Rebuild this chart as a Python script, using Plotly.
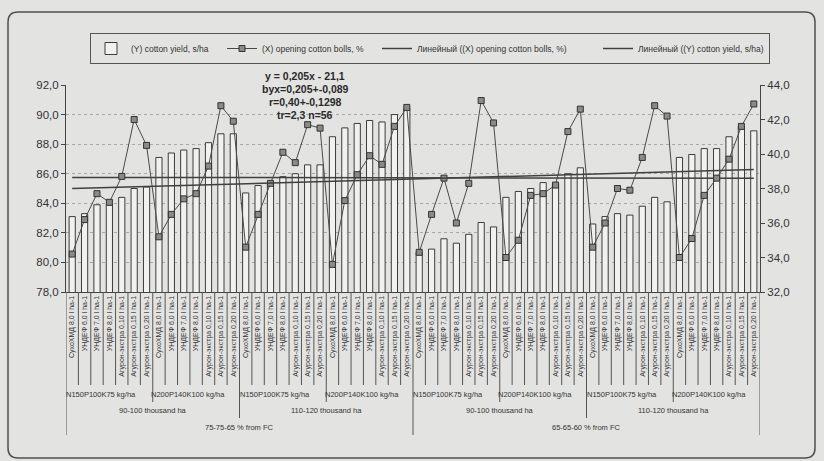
import numpy as np
import plotly.graph_objects as go

# ---------------- data ----------------
treatments = ["СухоХМД 8,0 l ha-1", "УНДЕФ 6,0 l ha-1", "УНДЕФ 7,0 l ha-1", "УНДЕФ 8,0 l ha-1",
              "Агурон-экстра 0,10 l ha-1", "Агурон-экстра 0,15 l ha-1", "Агурон-экстра 0,20 l ha-1"]
fertilizers = ["N150P100K75 kg/ha", "N200P140K100 kg/ha"]
densities = ["90-100 thousand ha", "110-120 thousand ha"]
irrigation = ["75-75-65 % from FC", "65-65-60 % from FC"]

cotton_yield = [83.1, 83.3, 83.9, 83.9, 84.4, 85.0, 85.1,
                87.1, 87.4, 87.6, 87.7, 88.1, 88.7, 88.7,
                84.7, 85.2, 85.4, 85.8, 86.0, 86.6, 86.6,
                88.5, 89.1, 89.4, 89.6, 89.5, 90.0, 90.4,
                80.7, 80.9, 81.6, 81.3, 81.9, 82.7, 82.4,
                84.4, 84.8, 85.0, 85.4, 85.3, 86.0, 86.4,
                82.6, 83.1, 83.3, 83.2, 83.8, 84.4, 84.1,
                87.1, 87.3, 87.7, 87.7, 88.5, 89.2, 88.9]
opening_bolls = [34.2, 36.2, 37.7, 37.2, 38.7, 42.0, 40.5,
                 35.2, 36.5, 37.4, 37.7, 39.3, 42.8, 41.9,
                 34.6, 36.5, 38.3, 40.1, 39.5, 41.7, 41.5,
                 33.6, 37.3, 38.8, 39.9, 39.4, 41.6, 42.7,
                 34.3, 36.5, 38.6, 36.0, 38.3, 43.1, 41.8,
                 34.0, 35.0, 37.6, 37.7, 38.2, 41.3, 42.6,
                 34.6, 36.0, 38.0, 37.9, 39.8, 42.8, 42.2,
                 34.0, 35.1, 37.6, 38.6, 39.7, 41.6, 42.9]

left_ticks = [78, 80, 82, 84, 86, 88, 90, 92]
left_ticktext = ["78,0", "80,0", "82,0", "84,0", "86,0", "88,0", "90,0", "92,0"]
right_ticks = [32, 34, 36, 38, 40, 42, 44]
right_ticktext = ["32,0", "34,0", "36,0", "38,0", "40,0", "42,0", "44,0"]

stats_text = ["y = 0,205x - 21,1", "byx=0,205+-0,089", "r=0,40+-0,1298", "tr=2,3 n=56"]

# ---------------- figure ----------------
n = len(cotton_yield)
x = np.arange(n)
tick_labels = treatments * (n // len(treatments))

W, H = 824, 461
L, R, T, B = 66, 64, 85, 169
pw, ph = W - L - R, H - T - B

def px_x(p):
    return (p - L) / pw

def px_y(p):
    return (H - B - p) / ph

BG = "#e3e3e1"
DARK = "#3c3c3c"
FONT = "Liberation Sans Narrow, Liberation Sans, Arial"

fit_x = np.polyfit(x, opening_bolls, 1)
fit_y = np.polyfit(x, cotton_yield, 1)
ends = np.array([x[0], x[-1]])

fig = go.Figure()
fig.add_trace(go.Bar(x=x, y=cotton_yield, name="(Y) cotton yield, s/ha", width=0.5,
                     marker=dict(color="#f1f1ef", line=dict(color=DARK, width=1)),
                     legendwidth=86))
fig.add_trace(go.Scatter(x=x, y=opening_bolls, name="(X) opening cotton bolls, %", yaxis="y2",
                         mode="lines+markers", line=dict(color="#4a4a4a", width=1),
                         marker=dict(symbol="square", size=6, color="#8a8a8a",
                                     line=dict(color="#333", width=1)),
                         legendwidth=110))
fig.add_trace(go.Scatter(x=ends, y=np.polyval(fit_x, ends), yaxis="y2", mode="lines",
                         name="Линейный ((X) opening cotton bolls, %)",
                         line=dict(color="#404040", width=1.5), legendwidth=176))
fig.add_trace(go.Scatter(x=ends, y=np.polyval(fit_y, ends), mode="lines",
                         name="Линейный ((Y) cotton yield, s/ha)",
                         line=dict(color="#404040", width=1.5), legendwidth=126))

shapes = []
# outer rounded frame
x0, x1, y0, y1 = px_x(8), px_x(815), px_y(458), px_y(12)
rx, ry = 10 / pw, 10 / ph
path = (f"M {x0+rx},{y1} L {x1-rx},{y1} Q {x1},{y1} {x1},{y1-ry} L {x1},{y0+ry} "
        f"Q {x1},{y0} {x1-rx},{y0} L {x0+rx},{y0} Q {x0},{y0} {x0},{y0+ry} "
        f"L {x0},{y1-ry} Q {x0},{y1} {x0+rx},{y1} Z")
shapes.append(dict(type="path", xref="paper", yref="paper", path=path,
                   line=dict(color="#505050", width=1.5), layer="below"))

# category separators of the multi-level axis
for k in range(n + 1):
    if k % 28 == 0:
        depth = 143
    elif k % 14 == 0:
        depth = 126
    elif k % 7 == 0:
        depth = 110
    else:
        depth = 93
    shapes.append(dict(type="line", xref="x", yref="paper", x0=k - 0.5, x1=k - 0.5,
                       y0=0, y1=-depth / ph, line=dict(color="#555", width=1)))

annotations = []
for i in range(n // 7):
    annotations.append(dict(x=i * 7 + 3, y=px_y(394), xref="x", yref="paper", xshift=-8,
                            xanchor="center", yanchor="middle",
                            text=fertilizers[i % 2], showarrow=False,
                            font=dict(size=7.5, color="#333", family=FONT)))
for i in range(n // 14):
    annotations.append(dict(x=i * 14 + 6.5, y=px_y(410), xref="x", yref="paper",
                            xanchor="center", yanchor="middle",
                            text=densities[i % 2], showarrow=False,
                            font=dict(size=7.5, color="#333", family=FONT)))
for i in range(n // 28):
    annotations.append(dict(x=i * 28 + 13.5, y=px_y(427), xref="x", yref="paper",
                            xanchor="center", yanchor="middle",
                            text=irrigation[i], showarrow=False,
                            font=dict(size=7.5, color="#333", family=FONT)))
for j, t in enumerate(stats_text):
    annotations.append(dict(x=px_x(305), y=px_y(76 + 13 * j), xref="paper", yref="paper",
                            xanchor="center", yanchor="middle",
                            text=f"<b>{t}</b>", showarrow=False,
                            font=dict(size=10.5, color="#2a2a2a", family="Liberation Sans, Arial")))

fig.update_layout(
    width=W, height=H, autosize=False,
    margin=dict(l=L, r=R, t=T, b=B, pad=0),
    paper_bgcolor=BG, plot_bgcolor=BG,
    font=dict(family=FONT, color="#333"),
    bargap=0.5,
    showlegend=True,
    legend=dict(orientation="h", x=px_x(90), y=px_y(33), xanchor="left", yanchor="top",
                bgcolor=BG, bordercolor="#555", borderwidth=1,
                font=dict(size=8.5, family=FONT, color="#333"), traceorder="normal"),
    xaxis=dict(range=[-0.5, n - 0.5], tickmode="array", tickvals=list(x), ticktext=tick_labels,
               tickangle=-90, tickfont=dict(size=7, family=FONT, color="#333"),
               showline=True, linecolor="#444", linewidth=1, ticks="", showgrid=False,
               zeroline=False),
    yaxis=dict(range=[78, 92], tickmode="array", tickvals=left_ticks, ticktext=left_ticktext,
               tickfont=dict(size=11.5, family="Liberation Sans, Arial", color="#333"),
               showline=True, linecolor="#444", linewidth=1, ticks="outside", ticklen=4,
               tickcolor="#444", showgrid=True, gridcolor="#a8a8a8", griddash="dot",
               gridwidth=1, zeroline=False),
    yaxis2=dict(range=[32, 44], tickmode="array", tickvals=right_ticks, ticktext=right_ticktext,
                overlaying="y", side="right",
                tickfont=dict(size=11.5, family="Liberation Sans, Arial", color="#333"),
                showline=True, linecolor="#444", linewidth=1, ticks="outside", ticklen=4,
                tickcolor="#444", showgrid=False, zeroline=False),
    shapes=shapes,
    annotations=annotations,
)

fig.write_html("out.html", config={"displayModeBar": False},
               post_script="document.body.style.margin='0';document.body.style.overflow='hidden';"
                           "document.body.style.background='" + BG + "';")
